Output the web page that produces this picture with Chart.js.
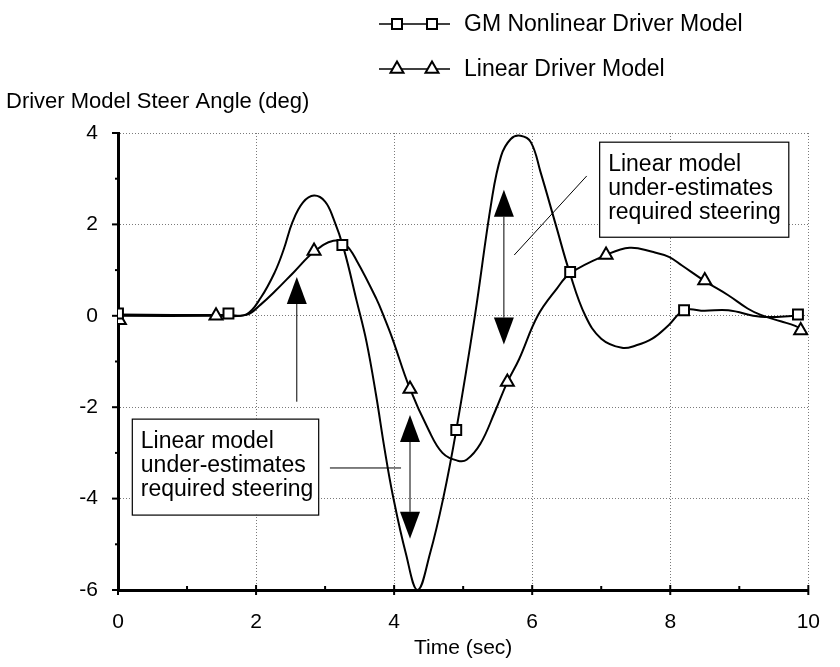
<!DOCTYPE html>
<html><head><meta charset="utf-8">
<script src="https://cdn.jsdelivr.net/npm/chart.js@4.4.1/dist/chart.umd.min.js"></script>
<style>html,body{margin:0;padding:0;background:#fff;} canvas{display:block;}</style>
</head><body>
<canvas id="c" width="840" height="667"></canvas>
<script>
// ---- data ----
const seriesNames = ['GM Nonlinear Driver Model', 'Linear Driver Model'];
const xAxisTitle = 'Time (sec)';
const yAxisTitle = 'Driver Model Steer Angle (deg)';
const xTickValues = [0, 2, 4, 6, 8, 10];
const yTickValues = [-6, -4, -2, 0, 2, 4];

// GM nonlinear driver model curve (time s, angle deg)
const gmTime  = [0, 0.8, 1.6, 1.86, 2.07, 2.27, 2.4, 2.53, 2.68, 2.84, 3.0, 3.12, 3.27, 3.46, 3.6, 3.74, 3.86, 3.98, 4.17, 4.34, 4.52, 4.71, 4.9, 5.17, 5.41, 5.55, 5.69, 5.83, 5.98, 6.12, 6.34, 6.54, 6.77, 7.0, 7.3, 7.5, 7.74, 7.98, 8.2, 8.5, 8.84, 9.31, 9.85];
const gmAngle = [0.03, 0.02, 0.02, 0.03, 0.4, 0.95, 1.45, 2.06, 2.48, 2.63, 2.5, 2.13, 1.47, 0.31, -0.57, -1.75, -2.9, -3.92, -5.2, -6.0, -5.2, -4.0, -2.5, 0.0, 2.5, 3.5, 3.87, 3.94, 3.8, 3.15, 2.0, 0.96, 0.0, -0.5, -0.7, -0.65, -0.5, -0.2, 0.12, 0.11, 0.12, -0.02, 0.0];
// Linear driver model curve
const linTime  = [0, 1.45, 1.86, 2.07, 2.27, 2.55, 2.84, 3.12, 3.3, 3.46, 3.74, 3.86, 3.98, 4.22, 4.5, 4.7, 4.92, 5.05, 5.25, 5.46, 5.64, 5.81, 6.08, 6.36, 6.55, 7.07, 7.41, 7.74, 7.98, 8.17, 8.5, 8.84, 9.12, 9.31, 9.6, 9.81, 9.9];
const linAngle = [0, 0, 0.02, 0.25, 0.53, 0.96, 1.4, 1.64, 1.55, 1.2, 0.38, -0.05, -0.52, -1.56, -2.5, -3.0, -3.17, -3.15, -2.8, -2.1, -1.45, -0.95, 0.0, 0.6, 0.93, 1.33, 1.49, 1.4, 1.29, 1.1, 0.76, 0.45, 0.16, 0.02, -0.12, -0.22, -0.3];
// marker positions
const gmMarkerTime  = [0, 1.6, 3.25, 4.9, 6.55, 8.2, 9.85];
const gmMarkerAngle = [0.05, 0.05, 1.55, -2.5, 0.96, 0.12, 0.03];
const linMarkerTime  = [0.02, 1.42, 2.84, 4.23, 5.64, 7.07, 8.5, 9.89];
const linMarkerAngle = [-0.1, 0.0, 1.42, -1.6, -1.45, 1.33, 0.77, -0.32];

// annotations (data units)
const noteText = ['Linear model', 'under-estimates', 'required steering'];
const noteBoxes = [
  {x0: 6.97, x1: 9.71, y0: 3.81, y1: 1.73},
  {x0: 0.2,  x1: 2.9,  y0: -2.25, y1: -4.35}
];
const leaderLines = [
  {x0: 6.79, y0: 3.06, x1: 5.74, y1: 1.33},
  {x0: 3.07, y0: -3.33, x1: 4.1, y1: -3.33}
];
const arrows = [
  {x: 2.59, upTip: 0.85, bottom: -1.88, downTip: null},
  {x: 4.23, upTip: -2.17, downTip: -4.88},
  {x: 5.59, upTip: 2.76, downTip: -0.63}
];

const FONT = '"Liberation Sans", Arial, Helvetica, sans-serif';
const pts = (xs, ys) => xs.map((x, i) => ({x: x, y: ys[i]}));

const ticksPlugin = {
  id: 'ticksPlugin',
  afterDraw(chart) {
    const ctx = chart.ctx, xs = chart.scales.x, ys = chart.scales.y;
    const bottom = chart.chartArea.bottom, left = chart.chartArea.left;
    ctx.save();
    ctx.strokeStyle = '#000'; ctx.lineWidth = 2;
    for (let v = 0; v <= 10; v++) {
      const px = xs.getPixelForValue(v);
      ctx.beginPath();
      if (v % 2 === 0) { ctx.moveTo(px, bottom - 5); ctx.lineTo(px, bottom + 5); }
      else { ctx.moveTo(px, bottom - 4); ctx.lineTo(px, bottom); }
      ctx.stroke();
    }
    for (let v = -6; v <= 4; v++) {
      const py = ys.getPixelForValue(v);
      ctx.beginPath();
      if (v % 2 === 0) { ctx.moveTo(left - 6, py); ctx.lineTo(left, py); }
      else { ctx.moveTo(left - 3, py); ctx.lineTo(left, py); }
      ctx.stroke();
    }
    ctx.restore();
  }
};

function triPath(ctx, x, y, r) {
  ctx.beginPath();
  ctx.moveTo(x, y - r);
  ctx.lineTo(x + r * 0.866, y + r * 0.5);
  ctx.lineTo(x - r * 0.866, y + r * 0.5);
  ctx.closePath();
}

const decorPlugin = {
  id: 'decor',
  afterDraw(chart) {
    const ctx = chart.ctx, xs = chart.scales.x, ys = chart.scales.y;
    const X = v => xs.getPixelForValue(v), Y = v => ys.getPixelForValue(v);
    ctx.save();
    // y-axis title (horizontal, top-left)
    ctx.fillStyle = '#000';
    ctx.font = '22px ' + FONT;
    ctx.textAlign = 'left'; ctx.textBaseline = 'alphabetic';
    ctx.fillText(yAxisTitle, 6, 108);

    // legend
    const legY = [24, 69];
    ctx.lineWidth = 1.5; ctx.strokeStyle = '#000';
    legY.forEach((ly, i) => {
      ctx.beginPath(); ctx.moveTo(379, ly); ctx.lineTo(450, ly); ctx.stroke();
      [397, 432].forEach(mx => {
        ctx.fillStyle = '#fff'; ctx.lineWidth = 2;
        if (i === 0) { ctx.fillRect(mx - 5, ly - 5, 10, 10); ctx.strokeRect(mx - 5, ly - 5, 10, 10); }
        else { triPath(ctx, mx, ly, 7.5); ctx.fill(); ctx.stroke(); }
        ctx.lineWidth = 1.5;
      });
      ctx.fillStyle = '#000';
      ctx.font = '23px ' + FONT;
      ctx.textBaseline = 'middle';
      ctx.fillText(seriesNames[i], 464, ly + 1);
    });

    // leader lines
    ctx.lineWidth = 1; ctx.strokeStyle = '#000';
    leaderLines.forEach(l => {
      ctx.beginPath(); ctx.moveTo(X(l.x0), Y(l.y0)); ctx.lineTo(X(l.x1), Y(l.y1)); ctx.stroke();
    });

    // arrows
    const headL = 27, headW = 10;
    arrows.forEach(a => {
      const ax = X(a.x);
      const upT = Y(a.upTip);
      const endY = a.downTip === null ? Y(a.bottom) : Y(a.downTip) - headL;
      ctx.lineWidth = 1;
      ctx.beginPath(); ctx.moveTo(ax, upT + headL); ctx.lineTo(ax, endY); ctx.stroke();
      ctx.fillStyle = '#000';
      ctx.beginPath(); ctx.moveTo(ax, upT); ctx.lineTo(ax + headW, upT + headL); ctx.lineTo(ax - headW, upT + headL); ctx.closePath(); ctx.fill();
      if (a.downTip !== null) {
        const dT = Y(a.downTip);
        ctx.beginPath(); ctx.moveTo(ax, dT); ctx.lineTo(ax + headW, dT - headL); ctx.lineTo(ax - headW, dT - headL); ctx.closePath(); ctx.fill();
      }
    });

    // text boxes
    noteBoxes.forEach(b => {
      const l = X(b.x0), r = X(b.x1), t = Y(b.y0), bt = Y(b.y1);
      ctx.fillStyle = '#fff';
      ctx.fillRect(l, t, r - l, bt - t);
      ctx.lineWidth = 1.2; ctx.strokeStyle = '#000';
      ctx.strokeRect(l + 0.5, t + 0.5, r - l, bt - t);
      ctx.fillStyle = '#000';
      ctx.font = '23px ' + FONT;
      ctx.textBaseline = 'alphabetic'; ctx.textAlign = 'left';
      noteText.forEach((s, k) => ctx.fillText(s, l + 9, t + 29 + k * 24));
    });
    ctx.restore();
  }
};

new Chart(document.getElementById('c'), {
  type: 'line',
  data: {
    datasets: [
      {label: seriesNames[0] + ' markers', data: pts(gmMarkerTime, gmMarkerAngle), showLine: false,
       pointStyle: 'rect', pointRadius: 7, pointBackgroundColor: '#fff', pointBorderColor: '#000', pointBorderWidth: 2},
      {label: seriesNames[1] + ' markers', data: pts(linMarkerTime, linMarkerAngle), showLine: false,
       pointStyle: 'triangle', pointRadius: 7.5, pointBackgroundColor: '#fff', pointBorderColor: '#000', pointBorderWidth: 2},
      {label: seriesNames[0], data: pts(gmTime, gmAngle), borderColor: '#000', borderWidth: 2,
       pointRadius: 0, tension: 0.4, fill: false},
      {label: seriesNames[1], data: pts(linTime, linAngle), borderColor: '#000', borderWidth: 2,
       pointRadius: 0, tension: 0.4, fill: false}
    ]
  },
  options: {
    responsive: false,
    animation: false,
    devicePixelRatio: 1,
    layout: {padding: {top: 133, right: 22, bottom: 0, left: 0}},
    plugins: {legend: {display: false}, tooltip: {enabled: false}},
    scales: {
      x: {
        type: 'linear', min: 0, max: 10,
        afterFit: s => { s.height = 77; },
        ticks: {stepSize: 1, autoSkip: false, maxRotation: 0, padding: 20, color: '#000',
                font: {size: 21, family: FONT},
                callback: v => xTickValues.includes(v) ? String(v) : ''},
        grid: {drawTicks: false, lineWidth: 1,
               color: c => (c.tick && c.tick.value % 2 === 0) ? '#7a7a7a' : 'rgba(0,0,0,0)'},
        border: {display: true, color: '#000', width: 3, dash: [1, 2]},
        title: {display: true, text: xAxisTitle, color: '#000', font: {size: 21, family: FONT}, padding: {top: 0, bottom: 6}}
      },
      y: {
        type: 'linear', min: -6, max: 4,
        afterFit: s => { s.width = 118; },
        ticks: {stepSize: 1, autoSkip: false, padding: 20, color: '#000',
                font: {size: 21, family: FONT},
                callback: v => yTickValues.includes(v) ? String(v) : ''},
        grid: {drawTicks: false, lineWidth: 1,
               color: c => (c.tick && c.tick.value % 2 === 0) ? '#7a7a7a' : 'rgba(0,0,0,0)'},
        border: {display: true, color: '#000', width: 3, dash: [1, 2]}
      }
    }
  },
  plugins: [ticksPlugin, decorPlugin]
});
</script>
</body></html>
